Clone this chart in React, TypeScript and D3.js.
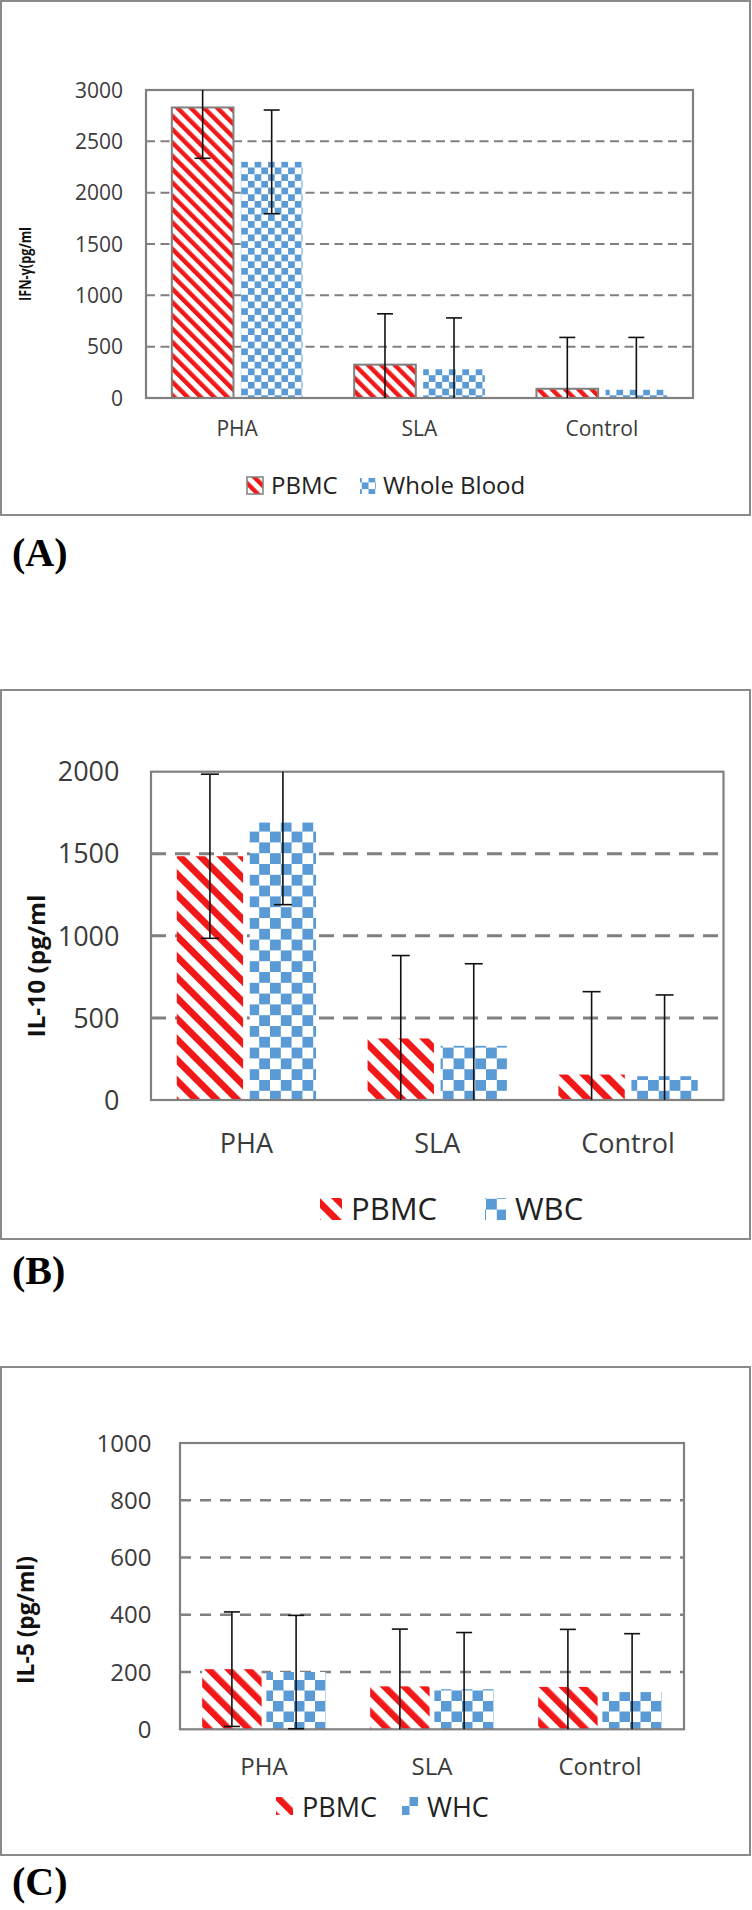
import React from 'react';
import * as d3 from 'd3';

const categories = ['PHA', 'SLA', 'Control'];

// (A) IFN-γ
const ifnPbmc = [2830, 325, 90];
const ifnPbmcErr = [495, 495, 500];
const ifnWhole = [2300, 280, 80];
const ifnWholeErr = [505, 500, 510];
const ifnTicks = [0, 500, 1000, 1500, 2000, 2500, 3000];

// (B) IL-10
const il10Pbmc = [1485, 375, 155];
const il10PbmcErr = [500, 505, 505];
const il10Wbc = [1690, 330, 145];
const il10WbcErr = [500, 500, 495];
const il10Ticks = [0, 500, 1000, 1500, 2000];

// (C) IL-5
const il5Pbmc = [210, 150, 148];
const il5PbmcErr = [200, 200, 201];
const il5Whc = [200, 140, 130];
const il5WhcErr = [198, 198, 204];
const il5Ticks = [0, 200, 400, 600, 800, 1000];

const FONT = "'Open Sans', 'Liberation Sans', sans-serif";
const RED = '#f01818';
const BLUE = '#5b9bd5';
const GREY = '#808080';
const TEXT = '#3b3b3b';

function Panel(p) {
  const x0 = d3.scaleBand().domain(categories).range([p.plot.left, p.plot.right]);
  const x1 = d3
    .scaleBand()
    .domain(p.series.map((s) => s.name))
    .range([0, x0.bandwidth()])
    .paddingInner(p.padIn)
    .paddingOuter(p.padOut);
  const y = d3.scaleLinear().domain([0, p.yMax]).range([p.plot.bottom, p.plot.top]);
  const yMax = p.yMax;
  const stripeId = `stripe-${p.id}`;
  const checkId = `check-${p.id}`;
  const fillFor = (s) => (s.kind === 'stripe' ? `url(#${stripeId})` : `url(#${checkId})`);
  const c = p.checker;

  return (
    <g>
      <defs>
        <pattern
          id={stripeId}
          patternUnits="userSpaceOnUse"
          width={p.stripe}
          height={p.stripe}
          patternTransform="rotate(-45)"
        >
          <rect width={p.stripe} height={p.stripe} fill="#fff" />
          <rect width={p.stripe * 0.47} height={p.stripe} fill={RED} />
        </pattern>
        <pattern id={checkId} patternUnits="userSpaceOnUse" width={c * 2} height={c * 2}>
          <rect width={c * 2} height={c * 2} fill="#fff" />
          <rect width={c} height={c} fill={BLUE} />
          <rect x={c} y={c} width={c} height={c} fill={BLUE} />
        </pattern>
      </defs>

      {/* outer frame */}
      <rect
        x={1}
        y={p.frame.top}
        width={749}
        height={p.frame.bottom - p.frame.top}
        fill="none"
        stroke="#8a8a8a"
        strokeWidth={2}
      />

      {/* grid */}
      {p.ticks
        .filter((t) => t > 0 && t < yMax)
        .map((t) => (
          <line
            key={t}
            x1={p.plot.left}
            x2={p.plot.right}
            y1={y(t)}
            y2={y(t)}
            stroke={GREY}
            strokeWidth={p.gridW}
            strokeDasharray={p.dash}
          />
        ))}

      {/* bars */}
      {p.series.map((s) =>
        categories.map((cat, i) => (
          <rect
            key={s.name + cat}
            x={x0(cat) + x1(s.name)}
            y={y(s.values[i])}
            width={x1.bandwidth()}
            height={y(0) - y(s.values[i])}
            fill={fillFor(s)}
            stroke={s.outline ? GREY : 'none'}
            strokeWidth={s.outline ? 2 : 0}
          />
        ))
      )}

      {/* plot frame */}
      <rect
        x={p.plot.left}
        y={p.plot.top}
        width={p.plot.right - p.plot.left}
        height={p.plot.bottom - p.plot.top}
        fill="none"
        stroke={GREY}
        strokeWidth={2.2}
      />

      {/* error bars */}
      {p.series.map((s) =>
        categories.map((cat, i) => {
          const cx = x0(cat) + x1(s.name) + x1.bandwidth() / 2;
          const hi = s.values[i] + s.errors[i];
          const lo = s.values[i] - s.errors[i];
          const h = p.capW / 2;
          return (
            <g key={'e' + s.name + cat} stroke="#111" strokeWidth={1.6}>
              <line x1={cx} x2={cx} y1={y(Math.min(hi, yMax))} y2={y(Math.max(lo, 0))} />
              {hi <= yMax && <line x1={cx - h} x2={cx + h} y1={y(hi)} y2={y(hi)} />}
              {lo >= 0 && <line x1={cx - h} x2={cx + h} y1={y(lo)} y2={y(lo)} />}
            </g>
          );
        })
      )}

      {/* y tick labels */}
      {p.ticks.map((t) => (
        <text
          key={'t' + t}
          x={p.tickRight}
          y={y(t)}
          dy="0.36em"
          textAnchor="end"
          fontFamily={FONT}
          fontSize={p.tickFont}
          fill={TEXT}
        >
          {t}
        </text>
      ))}

      {/* x labels */}
      {categories.map((cat) => (
        <text
          key={'x' + cat}
          x={x0(cat) + x0.bandwidth() / 2}
          y={p.xLabelY}
          textAnchor="middle"
          fontFamily={FONT}
          fontSize={p.xFont}
          fill={TEXT}
        >
          {cat}
        </text>
      ))}

      {/* y title */}
      <text
        transform={`translate(${p.ylabel.x},${p.ylabel.y}) rotate(-90)`}
        dy="0.35em"
        textAnchor="middle"
        fontFamily={FONT}
        fontWeight="bold"
        fontSize={p.ylabel.size}
        textLength={p.ylabel.length}
        lengthAdjust="spacingAndGlyphs"
        fill="#111"
      >
        {p.ylabel.text}
      </text>

      {/* legend */}
      {p.series.map((s, i) => {
        const it = p.legend[i];
        return (
          <g key={'l' + s.name}>
            <rect
              x={it.swX}
              y={it.swY}
              width={it.sw}
              height={it.sh}
              fill={fillFor(s)}
              stroke={s.outline ? GREY : 'none'}
              strokeWidth={s.outline ? 1.5 : 0}
            />
            <text x={it.textX} y={p.legendY} fontFamily={FONT} fontSize={p.legendFont} fill="#222">
              {s.name}
            </text>
          </g>
        );
      })}

      {/* panel label */}
      <text
        x={12}
        y={p.labelY}
        fontFamily="'Liberation Serif', 'Times New Roman', serif"
        fontWeight="bold"
        fontSize={40}
        fill="#000"
      >
        {p.label}
      </text>
    </g>
  );
}

export default function App() {
  return (
    <>
      <style>{'body{margin:0;background:#fff}'}</style>
      <svg width={752} height={1910} style={{ display: 'block' }}>
        <rect width={752} height={1910} fill="#fff" />
        <Panel
          id="a"
          label="(A)"
          labelY={566}
          frame={{ top: 1, bottom: 515 }}
          plot={{ left: 146, right: 693, top: 90, bottom: 398 }}
          yMax={3000}
          ticks={ifnTicks}
          series={[
            { name: 'PBMC', values: ifnPbmc, errors: ifnPbmcErr, kind: 'stripe', outline: true },
            { name: 'Whole Blood', values: ifnWhole, errors: ifnWholeErr, kind: 'check' },
          ]}
          padIn={0.107}
          padOut={0.374}
          stripe={9.4}
          checker={6.7}
          gridW={2}
          dash="9 5.5"
          capW={16}
          tickFont={21}
          tickRight={123}
          xFont={21}
          xLabelY={436}
          legendFont={24}
          legendY={494}
          legend={[
            { swX: 247, swY: 477, sw: 16, sh: 17, textX: 271 },
            { swX: 360, swY: 478, sw: 16, sh: 16, textX: 383 },
          ]}
          ylabel={{ text: 'IFN-γ(pg/ml', x: 25, y: 264, size: 16, length: 74 }}
        />
        <Panel
          id="b"
          label="(B)"
          labelY={1284}
          frame={{ top: 690, bottom: 1239 }}
          plot={{ left: 151, right: 723.5, top: 771.7, bottom: 1100 }}
          yMax={2000}
          ticks={il10Ticks}
          series={[
            { name: 'PBMC', values: il10Pbmc, errors: il10PbmcErr, kind: 'stripe' },
            { name: 'WBC', values: il10Wbc, errors: il10WbcErr, kind: 'check' },
          ]}
          padIn={0.091}
          padOut={0.353}
          stripe={14.6}
          checker={10.8}
          gridW={3}
          dash="15 9"
          capW={18}
          tickFont={27}
          tickRight={119.5}
          xFont={27}
          xLabelY={1153}
          legendFont={31}
          legendY={1220}
          legend={[
            { swX: 320, swY: 1198, sw: 22, sh: 22, textX: 351 },
            { swX: 485, swY: 1198, sw: 21, sh: 22, textX: 515 },
          ]}
          ylabel={{ text: 'IL-10 (pg/ml', x: 37, y: 966, size: 24, length: 143 }}
        />
        <Panel
          id="c"
          label="(C)"
          labelY={1895}
          frame={{ top: 1367, bottom: 1855 }}
          plot={{ left: 180, right: 684, top: 1443, bottom: 1729.3 }}
          yMax={1000}
          ticks={il5Ticks}
          series={[
            { name: 'PBMC', values: il5Pbmc, errors: il5PbmcErr, kind: 'stripe' },
            { name: 'WHC', values: il5Whc, errors: il5WhcErr, kind: 'check' },
          ]}
          padIn={0.074}
          padOut={0.345}
          stripe={14}
          checker={10.5}
          gridW={2.5}
          dash="11 9"
          capW={16}
          tickFont={24}
          tickRight={151.5}
          xFont={24}
          xLabelY={1775}
          legendFont={27}
          legendY={1817}
          legend={[
            { swX: 276, swY: 1797, sw: 17, sh: 18, textX: 302 },
            { swX: 402, swY: 1797, sw: 16, sh: 18, textX: 427 },
          ]}
          ylabel={{ text: 'IL-5 (pg/ml)', x: 26, y: 1620, size: 23, length: 128 }}
        />
      </svg>
    </>
  );
}
